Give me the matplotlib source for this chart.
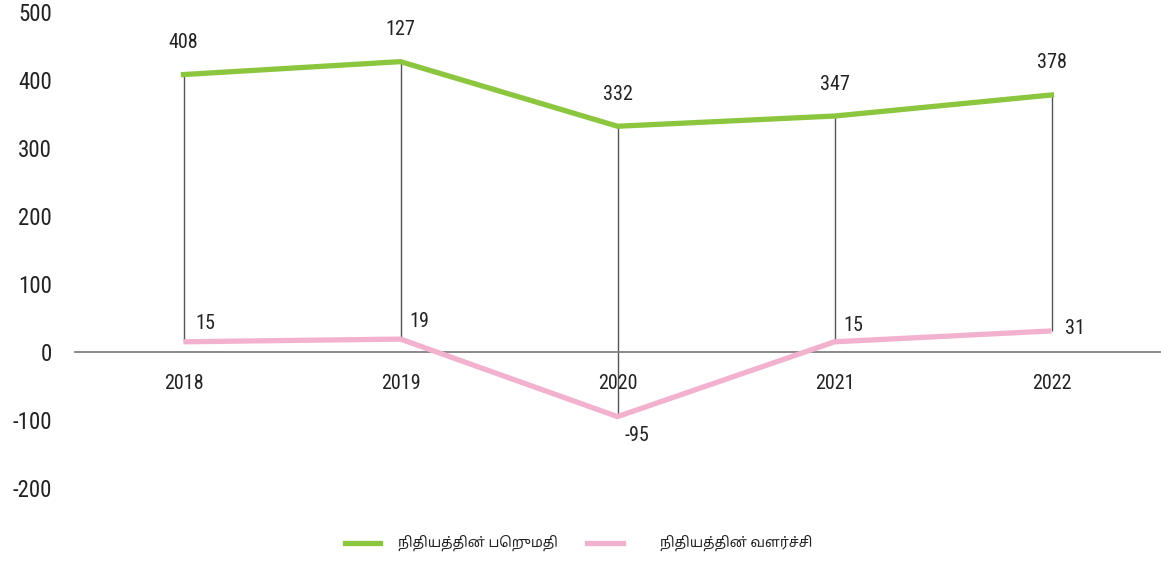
import matplotlib
matplotlib.use("Agg")
import matplotlib.pyplot as plt
from matplotlib.lines import Line2D
import numpy as np

# ---- data ----
years = ["2018", "2019", "2020", "2021", "2022"]
fund_value = [408, 427, 332, 347, 378]
fund_value_labels = ["408", "127", "332", "347", "378"]
fund_growth = [15, 19, -95, 15, 31]
fund_growth_labels = ["15", "19", "-95", "15", "31"]
series_names = ["நிதியத்தின் பெறுமதி", "நிதியத்தின் வளர்ச்சி"]
y_ticks = [-200, -100, 0, 100, 200, 300, 400, 500]

# ---- style ----
GREEN = "#8cc63f"
PINK = "#f2b1cf"
TXT = "#222222"
NUM_FONT = ["Roboto Condensed", "PT Sans Narrow", "Liberation Sans", "DejaVu Sans"]
TAMIL_FONT = ["Noto Sans Tamil", "FreeSans", "DejaVu Sans"]
PX = 0.72  # points per pixel at dpi 100

fig = plt.figure(figsize=(11.61, 5.62), dpi=100)
ax = fig.add_axes([75 / 1161, 1 - 488 / 562, (1160 - 75) / 1161, (488 - 12) / 562])

for s in ["top", "right", "left"]:
    ax.spines[s].set_visible(False)
ax.spines["bottom"].set_position(("data", 0))
ax.spines["bottom"].set_color("#808080")
ax.spines["bottom"].set_linewidth(1.3)

x = np.arange(len(years))
ax.vlines(x, fund_growth, fund_value, color="#555555", lw=1, zorder=1)
ax.plot(x, fund_value, color=GREEN, lw=3.8, solid_capstyle="projecting", zorder=3)
ax.plot(x, fund_growth, color=PINK, lw=3.8, solid_capstyle="butt", zorder=3)

for xi, v, lab in zip(x, fund_value, fund_value_labels):
    ax.annotate(lab, (xi, v), xytext=(0, 32 * PX), textcoords="offset points",
                ha="center", va="center", fontsize=14.5, family=NUM_FONT, color=TXT)

pink_offsets_px = [(22, 18), (19, 18), (19, -19), (19, 16), (23, 2)]
for xi, v, lab, (dx, dy) in zip(x, fund_growth, fund_growth_labels, pink_offsets_px):
    ax.annotate(lab, (xi, v), xytext=(dx * PX, dy * PX), textcoords="offset points",
                ha="center", va="center", fontsize=14.5, family=NUM_FONT, color=TXT)

ax.set_xlim(-0.5, len(years) - 0.5)
ax.set_ylim(-200, 500)
ax.set_yticks(y_ticks)
ax.set_yticklabels([str(t) for t in y_ticks], family=NUM_FONT, fontsize=16.5, color=TXT)
ax.set_xticks(x)
ax.set_xticklabels(years, family=NUM_FONT, fontsize=14.5, color=TXT)
ax.tick_params(axis="y", length=0, pad=23 * PX)
ax.tick_params(axis="x", length=0, pad=22 * PX)
ax.patch.set_alpha(0)

# ---- legend (manual) ----
W, H = 1161, 562
leg_y = 1 - 543 / H
fig.add_artist(Line2D([345 / W, 380 / W], [leg_y, leg_y], color=GREEN, lw=3.8, transform=fig.transFigure))
fig.text(398 / W, leg_y, series_names[0], family=TAMIL_FONT, fontsize=10, va="center", ha="left", color=TXT)
fig.add_artist(Line2D([587 / W, 623 / W], [leg_y, leg_y], color=PINK, lw=3.8, transform=fig.transFigure))
fig.text(660 / W, leg_y, series_names[1], family=TAMIL_FONT, fontsize=10, va="center", ha="left", color=TXT)

fig.savefig("out.png", dpi=100)
